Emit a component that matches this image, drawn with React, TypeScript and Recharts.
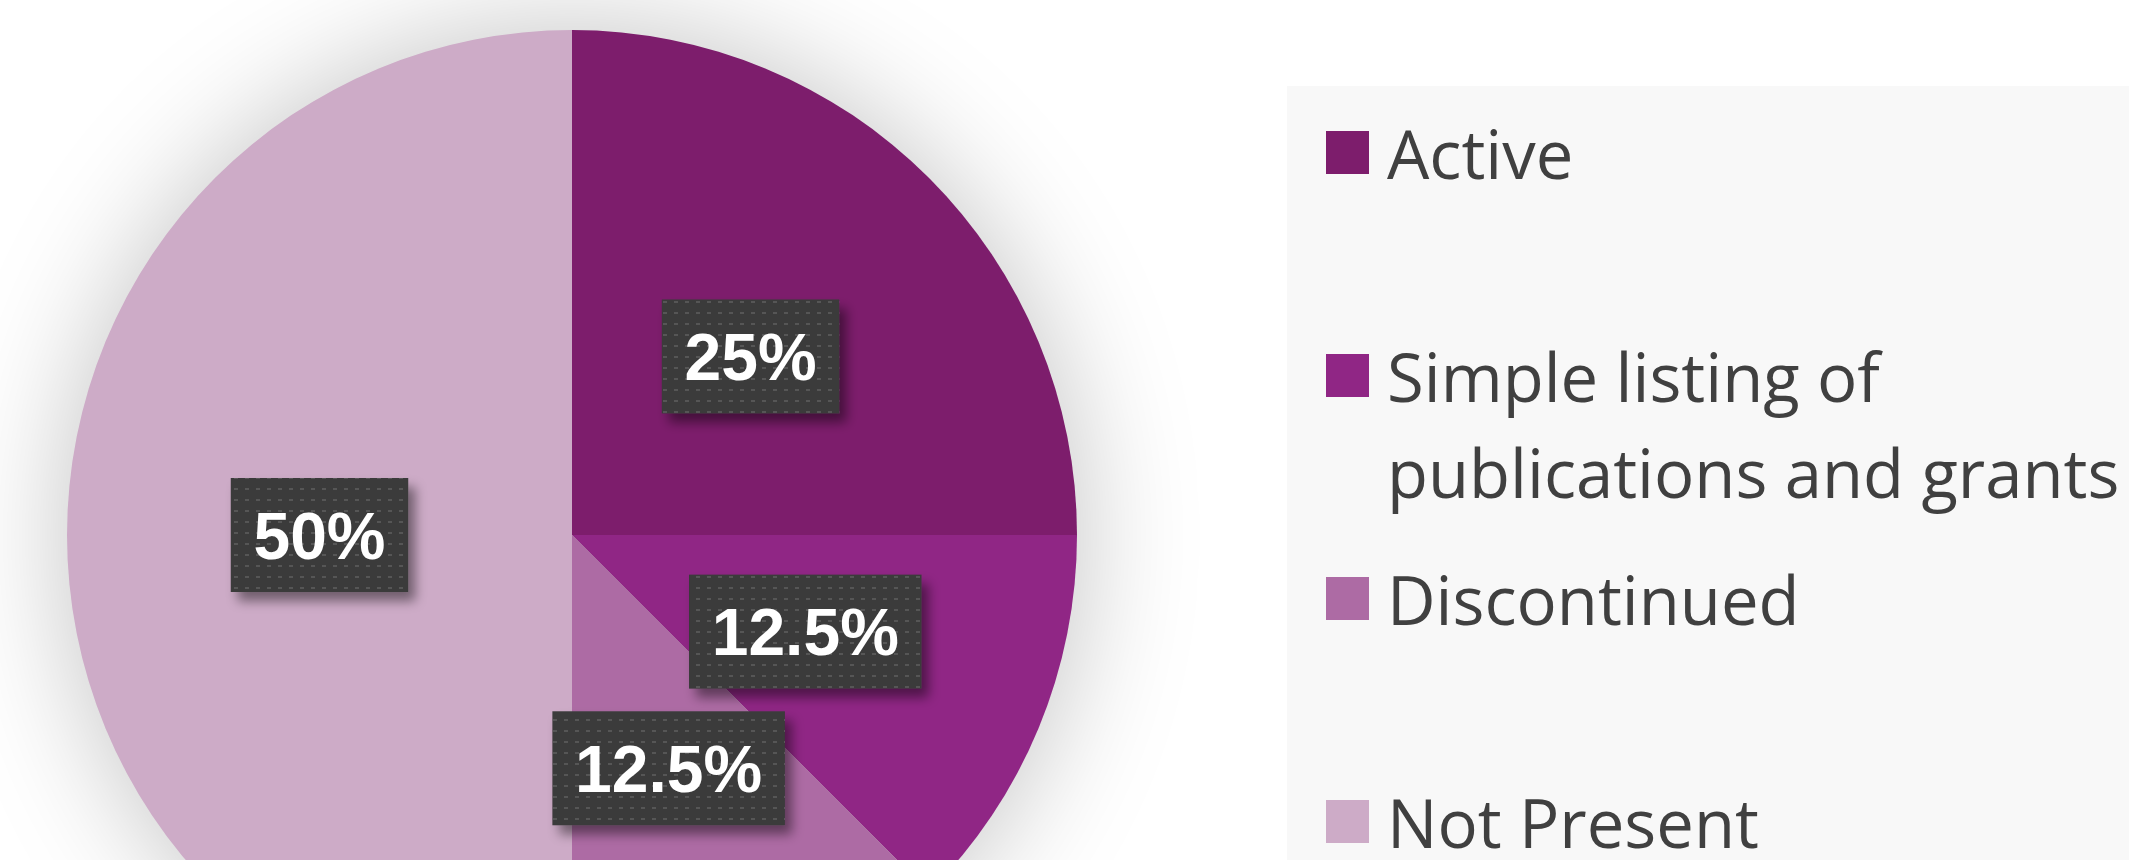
import React from 'react';
import { PieChart, Pie, Cell, Legend } from 'recharts';

const CATEGORIES = ['Active', 'Simple listing of publications and grants', 'Discontinued', 'Not Present'];
const LEGEND_TEXT = ['Active', 'Simple listing of\npublications and grants', 'Discontinued', 'Not Present'];
const SHARES = [25, 12.5, 12.5, 50];
const COLORS = ['#7d1d6c', '#902685', '#ad6ba4', '#cdabc7'];

const data = CATEGORIES.map((name, i) => ({ name, value: SHARES[i] }));

const RAD = Math.PI / 180;
const LABEL_FONT = 66;

const renderLabel = (props: any) => {
  const { cx, cy, midAngle, outerRadius, value } = props;
  const r = outerRadius * 0.5;
  const x = cx + r * Math.cos(-midAngle * RAD);
  const y = cy + r * Math.sin(-midAngle * RAD);
  const text = `${value}%`;
  const w = 95 + text.length * 27.5;
  const h = 114;
  return (
    <g>
      <rect x={x - w / 2} y={y - h / 2} width={w} height={h} fill="url(#labelDots)" filter="url(#labelShadow)" />
      <text
        x={x}
        y={y + LABEL_FONT * 0.36}
        textAnchor="middle"
        fill="#ffffff"
        fontFamily="'Liberation Sans', Arial, sans-serif"
        fontWeight={700}
        fontSize={LABEL_FONT}
      >
        {text}
      </text>
    </g>
  );
};

const renderLegend = () => (
  <div style={{ width: '100%', height: '100%', background: '#f8f8f8' }}>
    {LEGEND_TEXT.map((label, i) => (
      <div key={label} style={{ position: 'relative', height: 223 }}>
        <div
          style={{
            position: 'absolute',
            left: 39,
            top: 45,
            width: 43,
            height: 43,
            background: COLORS[i],
          }}
        />
        <div
          style={{
            position: 'absolute',
            left: 100,
            top: 19,
            whiteSpace: 'pre',
            fontFamily: "'Open Sans', sans-serif",
            fontSize: 67,
            lineHeight: '96px',
            color: '#404040',
          }}
        >
          {label}
        </div>
      </div>
    ))}
  </div>
);

export default function App() {
  return (
    <div
      style={{
        position: 'absolute',
        left: 0,
        top: 0,
        width: 2129,
        height: 860,
        overflow: 'hidden',
        background: '#ffffff',
      }}
    >
      <style>{`.recharts-pie { filter: drop-shadow(0 0 60px rgba(0,0,0,0.24)); }`}</style>
      <PieChart width={2129} height={860} margin={{ top: 0, right: 0, bottom: 0, left: 0 }}>
        <defs>
          <pattern id="labelDots" width="11" height="11" patternUnits="userSpaceOnUse">
            <rect width="11" height="11" fill="#3a3a3a" />
            <rect x="3" y="4" width="4" height="2" fill="#575757" />
          </pattern>
          <filter id="labelShadow" x="-20%" y="-20%" width="150%" height="160%">
            <feDropShadow dx="7" dy="9" stdDeviation="6" floodColor="#000" floodOpacity="0.45" />
          </filter>
        </defs>
        <Pie
          data={data}
          dataKey="value"
          nameKey="name"
          cx={572}
          cy={535}
          outerRadius={505}
          startAngle={90}
          endAngle={-270}
          stroke="none"
          label={renderLabel}
          labelLine={false}
          isAnimationActive={false}
        >
          {data.map((d, i) => (
            <Cell key={d.name} fill={COLORS[i]} />
          ))}
        </Pie>
        <Legend
          layout="vertical"
          align="right"
          verticalAlign="top"
          content={renderLegend}
          wrapperStyle={{ left: 1287, top: 86, width: 842, height: 774 }}
        />
      </PieChart>
    </div>
  );
}
